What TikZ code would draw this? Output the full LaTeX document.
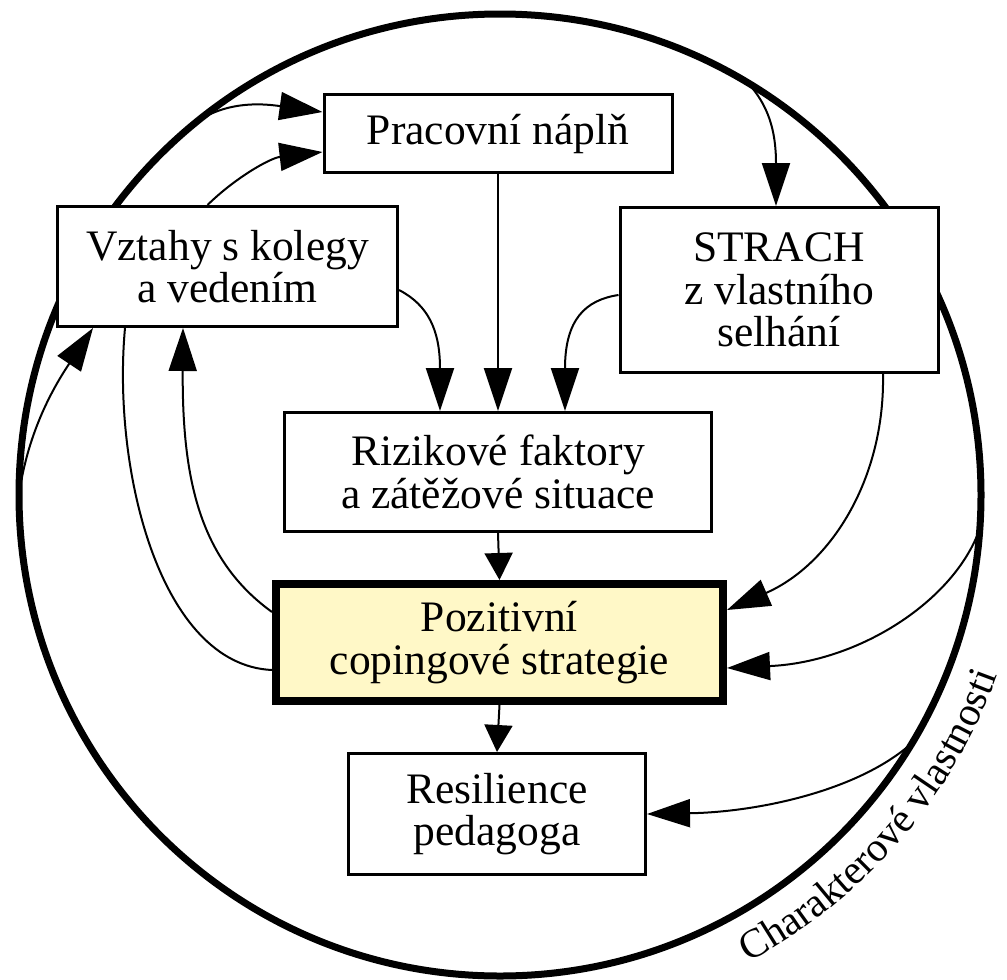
\documentclass[tikz,border=0pt]{standalone}
\usepackage{fontspec}
\setmainfont{Liberation Serif}
\usetikzlibrary{arrows.meta,shapes.geometric,decorations.text}
\definecolor{copyel}{RGB}{255,248,199}
\begin{document}
\begin{tikzpicture}[x=1pt,y=-1pt,
  box/.style={draw,fill=white,line width=3pt,inner sep=0pt,align=center,font=\fontsize{43.5}{42.5}\selectfont},
  conn/.style={line width=2pt,-{Triangle[length=43pt,width=28pt]}},
  shortconn/.style={line width=2pt,-{Triangle[length=27pt,width=28pt]}},
  plainconn/.style={line width=2pt}]
\useasboundingbox (0,0) rectangle (1007,980);
\node[draw,circle,line width=7pt,inner sep=0pt,outer sep=0pt,minimum size=962pt] (E) at (500,495) {};
\node[box,minimum width=348pt,minimum height=78pt] (P) at (498,133.5) {Pracovní náplň};
\node[box,minimum width=340pt,minimum height=120pt] (V) at (227.5,266.5) {Vztahy s kolegy\\a vedením};
\node[box,minimum width=318pt,minimum height=165pt] (S) at (779,290) {STRACH\\z vlastního\\selhání};
\node[box,minimum width=427pt,minimum height=119pt] (R) at (498,472) {Rizikové faktory\\a zátěžové situace};
\node[box,line width=8pt,fill=copyel,minimum width=447pt,minimum height=117pt] (Pz) at (499.5,642.5) {Pozitivní\\copingové strategie};
\node[box,minimum width=297pt,minimum height=121pt] (Res) at (497,814) {Resilience\\pedagoga};
% connectors
\draw[conn] (E.59) .. controls (768,105) and (776,130) .. ([xshift=-3pt]S.north);
\draw[conn] (P.south) -- (R.north);
\draw[conn] ([yshift=-23.5pt]V.east) .. controls (428,305) and (440,330) .. ([xshift=-58pt]R.north);
\draw[conn] ([yshift=-5pt]S.west) .. controls (585,300) and (565,320) .. ([xshift=67pt]R.north);
\draw[conn] (E.129) .. controls (230,100) and (265,104) .. ([yshift=21.5pt]P.west);
\draw[conn] ([xshift=-20pt]V.north) .. controls (235,178) and (270,158) .. ([yshift=-18.5pt]P.west);
\draw[conn] (E.180) .. controls (28,430) and (55,385) .. ([xshift=-134.5pt]V.south);
\draw[plainconn] ([xshift=-102.5pt]V.south) .. controls (112,470) and (160,665) .. ([yshift=-27.5pt]Pz.west);
\draw[conn] ([yshift=30.5pt]Pz.west) .. controls (200,560) and (182,480) .. ([xshift=-44.5pt]V.south);
\draw[conn] ([xshift=104pt]S.south) .. controls (885,480) and (830,565) .. ([yshift=32.5pt]Pz.east);
\draw[conn] (E.-4.5) .. controls (955,600) and (860,662) .. ([yshift=-25.5pt]Pz.east);
\draw[conn] (E.-31) .. controls (860,790) and (760,812) .. (Res.east);
\draw[shortconn] (R.south) -- (Pz.north);
\draw[shortconn] (Pz.south) -- (Res.north);
% label along the circle
\path[decorate,decoration={text along path,text align=left,
  text={|\fontsize{41}{41}\selectfont|Charakterové vlastnosti}}]
  (500,495) ++(62:529) arc[start angle=62,end angle=10,radius=529];
\end{tikzpicture}
\end{document}
